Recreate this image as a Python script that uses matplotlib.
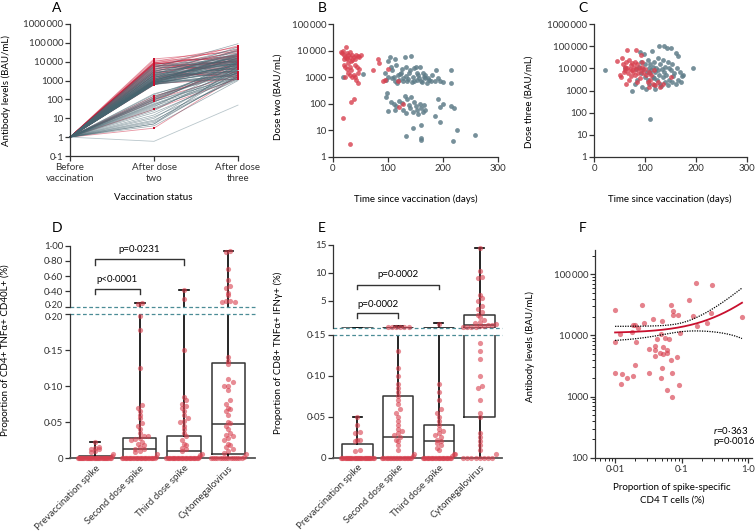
import numpy as np
import matplotlib
matplotlib.use("Agg")
import matplotlib.pyplot as plt
import matplotlib.transforms as mtransforms
from matplotlib.ticker import NullLocator, LogLocator, NullFormatter

plt.rcParams['font.family'] = ['Lato', 'DejaVu Sans']
plt.rcParams['font.size'] = 7
plt.rcParams['mathtext.fontset'] = 'custom'
plt.rcParams['mathtext.rm'] = 'Lato'
plt.rcParams['mathtext.it'] = 'Lato:italic'

# -----------------------------
# Data
# -----------------------------
# Panel A: antibody levels per participant (before vaccination = 1)
a_slate_dose2 = [600, 700, 800, 900, 1000, 1100, 1200, 1300, 1500, 1700,
                 2000, 2300, 2600, 3000, 3500, 4000, 5000, 6000, 7000, 800,
                 650, 750, 950, 1050, 1400, 1800, 2500, 900, 700, 600,
                 200, 180, 150, 120, 100, 90, 80, 70, 60, 50,
                 45, 40, 35, 30, 25, 20, 15, 12, 10, 8,
                 7, 6, 5, 5, 4, 130, 110, 95, 75, 55,
                 620, 680, 720, 780, 850, 880, 920, 980, 1150, 1250,
                 1350, 1450, 1600, 1900, 2100, 2800, 3200, 3800, 4500, 5500,
                 640, 820, 1020, 1600, 660, 740, 860, 1080, 1900, 2400]
a_slate_dose3 = [5000, 8000, 3000, 12000, 20000, 6000, 15000, 2500, 9000, 30000,
                 10000, 4000, 18000, 25000, 7000, 50000, 90000, 11000, 14000, 2000,
                 1500, 3500, 6500, 22000, 45000, 8500, 13000, 1200, 1800, 2200,
                 3000, 5000, 2500, 8000, 4000, 6000, 1500, 10000, 2000, 3500,
                 1200, 7000, 1800, 2800, 5000, 1500, 2500, 1100, 4000, 1300,
                 3000, 1600, 2000, 6000, 1000, 9000, 4500, 12000, 2600, 1400,
                 7000, 16000, 3800, 11000, 26000, 5500, 9500, 19000, 40000, 6000,
                 13000, 28000, 8000, 17000, 60000, 4200, 21000, 35000, 7500, 10000,
                 2400, 5200, 14000, 3300, 9000, 24000, 6800, 12500, 3000, 16000]
a_red_dose2 = [600, 800, 1000, 1200, 1500, 2000, 2500, 3000, 3500, 4000,
               5000, 6000, 7000, 8000, 9000, 10000, 12000, 14000, 6500, 7500,
               5500, 4500, 3000, 2000, 1000, 700, 120, 150, 80, 100,
               30, 3, 9000, 8500, 7800]
a_red_dose3 = [8000, 15000, 5000, 20000, 3000, 25000, 10000, 40000, 6000, 12000,
               70000, 9000, 30000, 18000, 2500, 60000, 14000, 35000, 7000, 22000,
               4000, 11000, 1500, 2000, 16000, 1200, 5000, 3000, 8000, 2000,
               1300, 1800, 20000, 45000, 10000]
a_faint = [1, 0.6, 50]
a_stages = ["Before\nvaccination", "After dose\ntwo", "After dose\nthree"]

# Panel B: dose two level vs time since vaccination
b_red_days = [15, 17, 18, 20, 22, 24, 25, 26, 28, 30,
              32, 20, 22, 25, 27, 30, 33, 35, 38, 40,
              42, 45, 48, 50, 40, 43, 45, 38, 35, 42,
              45, 30, 28, 22, 18, 30, 32, 38, 72, 82,
              83, 90, 95, 100, 118, 120, 128, 25, 30, 35,
              20, 47, 40]
b_red_bau = [9000, 8000, 10000, 7000, 6000, 14000, 8000, 5000, 7000, 6000,
             4000, 3000, 2500, 2000, 3500, 2500, 1800, 7000, 6000, 5000,
             7000, 6500, 6000, 7000, 3000, 2500, 1500, 1200, 1000, 800,
             600, 1200, 1500, 1000, 30, 3, 120, 150, 1800, 5000,
             3500, 700, 800, 2000, 700, 75, 100, 5500, 9000, 4500,
             5000, 2000, 1000]
b_slate_days = [18, 55, 95, 100, 103, 105, 108, 110, 112, 115,
                118, 120, 123, 125, 128, 130, 132, 135, 138, 140,
                142, 145, 148, 150, 152, 155, 158, 160, 163, 165,
                168, 170, 175, 180, 185, 188, 190, 195, 200, 215,
                215, 97, 100, 107, 113, 117, 122, 127, 133, 137,
                143, 147, 153, 157, 162, 167, 172, 178, 98, 97,
                100, 105, 110, 112, 115, 120, 125, 128, 130, 132,
                135, 138, 140, 142, 145, 148, 150, 152, 155, 158,
                160, 163, 165, 168, 190, 195, 200, 215, 220, 185,
                195, 145, 160, 225, 258, 132, 160, 160, 218]
b_slate_bau = [1000, 1300, 1500, 4000, 6000, 2500, 1800, 1000, 5000, 3000,
               1200, 800, 1500, 2000, 900, 6000, 2500, 700, 1500, 1800,
               6500, 1000, 2200, 2500, 800, 1200, 2500, 700, 1500, 1000,
               900, 600, 800, 1200, 700, 1800, 900, 700, 650, 1800,
               600, 800, 1000, 900, 700, 600, 1300, 750, 1100, 850,
               650, 700, 1400, 900, 650, 1200, 950, 700, 250, 180,
               55, 120, 100, 60, 80, 130, 110, 60, 200, 45,
               150, 90, 70, 180, 50, 120, 80, 60, 40, 100,
               70, 50, 90, 60, 150, 75, 100, 80, 70, 35,
               20, 12, 16, 10, 7, 6, 5, 4.5, 4]

# Panel C: dose three level vs time since vaccination
c_red_days = [45, 50, 52, 55, 57, 60, 60, 62, 63, 65,
              65, 67, 68, 70, 72, 73, 75, 77, 78, 80,
              80, 82, 83, 85, 85, 87, 88, 90, 92, 93,
              95, 97, 100, 102, 105, 107, 108, 110, 112, 115,
              118, 120, 125, 130, 135, 150, 58, 68, 75, 95]
c_red_bau = [22000, 5000, 4000, 30000, 15000, 8000, 12000, 20000, 2000, 65000,
             10000, 6000, 25000, 9000, 14000, 4500, 8000, 7000, 11000, 5000,
             20000, 70000, 9000, 2500, 15000, 6000, 10000, 3500, 8000, 40000,
             12000, 6000, 9000, 5000, 2500, 7000, 1400, 3000, 5000, 2000,
             8000, 1800, 2500, 1500, 2000, 4000, 7000, 3000, 18000, 20000]
c_slate_days = [22, 60, 75, 80, 82, 85, 88, 90, 92, 93,
                95, 97, 98, 100, 100, 102, 103, 105, 105, 107,
                108, 110, 110, 112, 113, 115, 115, 117, 118, 120,
                120, 122, 123, 125, 127, 128, 130, 130, 132, 133,
                135, 135, 137, 138, 140, 140, 142, 143, 145, 145,
                147, 148, 150, 150, 152, 153, 155, 157, 160, 160,
                162, 165, 165, 168, 170, 172, 175, 195, 110, 118,
                125]
c_slate_bau = [8000, 10000, 1000, 2000, 9000, 3000, 12000, 55000, 20000, 6000,
               1500, 9000, 45000, 4000, 15000, 1200, 7000, 25000, 3000, 10000,
               2000, 50, 6000, 8000, 60000, 4000, 12000, 1800, 20000, 1200,
               7000, 10000, 3000, 30000, 5000, 100000, 15000, 2000, 1600, 9000,
               25000, 4000, 7000, 100000, 12000, 2500, 5000, 85000, 1800, 20000,
               10000, 3000, 8000, 80000, 15000, 2500, 4500, 6000, 2000, 50000,
               10000, 3000, 35000, 7000, 2500, 4500, 5000, 10000, 15000, 3500,
               8500]

groups = ["Prevaccination spike", "Second dose spike", "Third dose spike", "Cytomegalovirus"]

# Panel D: CD4+ TNFa+ CD40L+ (%)
d_pre = [0] * 30 + [0.003, 0.005, 0.008, 0.010, 0.012, 0.013, 0.014, 0.015, 0.022]
d_second = [0] * 25 + [0.002, 0.005, 0.008, 0.010, 0.012, 0.013, 0.015, 0.018, 0.020, 0.022,
                       0.025, 0.027, 0.028, 0.030, 0.030, 0.035, 0.040, 0.045, 0.048, 0.055,
                       0.060, 0.065, 0.070, 0.073, 0.125, 0.178, 0.197, 0.240, 0.245]
d_third = [0] * 25 + [0.002, 0.004, 0.006, 0.010, 0.012, 0.014, 0.018, 0.020, 0.025, 0.030,
                      0.035, 0.040, 0.045, 0.050, 0.052, 0.055, 0.060, 0.065, 0.070, 0.072,
                      0.075, 0.080, 0.085, 0.150, 0.300, 0.420]
d_cmv = [0] * 15 + [0.002, 0.005, 0.007, 0.010, 0.012, 0.015, 0.018, 0.020, 0.025, 0.028,
                    0.030, 0.032, 0.035, 0.040, 0.045, 0.048, 0.050, 0.060, 0.065, 0.068,
                    0.070, 0.075, 0.080, 0.095, 0.100, 0.100, 0.105, 0.110, 0.130, 0.135,
                    0.140, 0.26, 0.27, 0.28, 0.26, 0.35, 0.38, 0.45, 0.47, 0.55, 0.70,
                    0.92, 0.93]
d_q1 = [0, 0, 0, 0.005]
d_med = [0, 0.012, 0.010, 0.047]
d_q3 = [0.003, 0.028, 0.030, 0.132]
d_lo = [0, 0, 0, 0]
d_hi = [0.022, 0.245, 0.42, 0.93]

# Panel E: CD8+ TNFa+ IFNg+ (%)
e_pre = [0] * 30 + [0.008, 0.010, 0.020, 0.021, 0.022, 0.030, 0.031, 0.040, 0.050]
e_second = [0] * 20 + [0.002, 0.005, 0.010, 0.015, 0.020, 0.022, 0.025, 0.028, 0.030, 0.032,
                       0.035, 0.040, 0.045, 0.050, 0.055, 0.060, 0.065, 0.070, 0.075, 0.080,
                       0.085, 0.090, 0.100, 0.110, 0.130, 0.35, 0.35, 0.35, 0.35, 0.35, 0.35]
e_third = [0] * 22 + [0.002, 0.004, 0.005, 0.010, 0.012, 0.015, 0.018, 0.020, 0.022, 0.025,
                      0.028, 0.030, 0.032, 0.035, 0.040, 0.045, 0.050, 0.055, 0.060, 0.070,
                      0.080, 0.090, 0.9]
e_cmv = [0] * 8 + [0.005, 0.010, 0.015, 0.020, 0.025, 0.030, 0.050, 0.055, 0.070, 0.085,
                   0.087, 0.100, 0.120, 0.130, 0.140, 0.2, 0.25, 0.3, 0.35, 0.4,
                   0.5, 0.6, 0.7, 0.8, 1.0, 1.2, 1.5, 2.0, 2.5, 3.0,
                   3.5, 4.0, 5.0, 5.5, 6.0, 9.0, 9.2, 10.3, 14.4]
e_q1 = [0, 0, 0, 0.05]
e_med = [0, 0.025, 0.020, 0.6]
e_q3 = [0.017, 0.075, 0.040, 2.4]
e_lo = [0, 0, 0, 0]
e_hi = [0.05, 0.45, 1.0, 14.5]

# Panel F: antibody level vs spike-specific CD4 T cells
f_cd4 = [0.01, 0.01, 0.01, 0.0119, 0.0123, 0.0129, 0.015, 0.0178, 0.0188, 0.020,
         0.0188, 0.020, 0.0206, 0.0224, 0.025, 0.0276, 0.0324, 0.0327, 0.0376, 0.0398,
         0.0398, 0.0398, 0.042, 0.047, 0.048, 0.050, 0.050, 0.053, 0.053, 0.049,
         0.056, 0.060, 0.061, 0.060, 0.065, 0.068, 0.069, 0.071, 0.072, 0.073,
         0.075, 0.089, 0.086, 0.092, 0.094, 0.127, 0.148, 0.164, 0.172, 0.237,
         0.283, 0.273, 0.80]
f_bau = [25700, 7800, 2440, 10600, 1620, 2300, 2000, 11600, 15100, 14600,
         2200, 3300, 7800, 13400, 31800, 16000, 5900, 2400, 18800, 6800,
         5800, 4600, 8800, 5200, 10400, 17400, 2900, 6400, 5000, 2000,
         9100, 5700, 5200, 1260, 8700, 31800, 3900, 2400, 1000, 25000,
         21800, 21800, 4500, 1520, 11000, 37500, 21000, 72000, 14200, 16000,
         66800, 23000, 20000]
# fitted line and 95% band as drawn (linear fit, log display)
f_fit_icpt = 10900
f_fit_slope = 29240
f_ci_a = 4.08e6
f_ci_b = 1.2027e9
f_ci_xmean = 0.07
f_fit_range = [0.01, 0.8]

# -----------------------------
# Styling
# -----------------------------
RED = "#c8102e"
RED_DOT = "#d8404f"
SLATE = "#46646f"
SLATE_DOT = "#5f7d89"
DASH = "#4b8c96"
INK = "#333333"

W, H = 756, 531
fig = plt.figure(figsize=(W / 100, H / 100), dpi=100)


def px_axes(l, t, r, b):
    return fig.add_axes([l / W, 1 - b / H, (r - l) / W, (b - t) / H])


def ftext(x, y, s, **kw):
    fig.text(x / W, 1 - y / H, s, **kw)


def style(ax):
    for s in ["top", "right"]:
        ax.spines[s].set_visible(False)
    for s in ["left", "bottom"]:
        ax.spines[s].set_color(INK)
        ax.spines[s].set_linewidth(0.9)
    ax.tick_params(colors=INK, width=0.9, length=3.5, labelsize=7, pad=1.5)
    ax.tick_params(which="minor", length=2, width=0.6)
    ax.patch.set_alpha(0)


def swarm(vals, ypx, xpx, step_px=4.2, maxw=0.4):
    vals = np.asarray(vals, float)
    off = np.zeros(len(vals))
    if len(vals) == 0:
        return off
    bins = np.floor(vals * ypx / 4.5).astype(int)
    for b in np.unique(bins):
        idx = np.where(bins == b)[0]
        k = len(idx)
        if k > 1:
            half = min(maxw, (k - 1) * step_px / xpx / 2)
            off[idx] = np.linspace(-half, half, k)
    return off


def nudge_label(ax, i, dy_px):
    lab = ax.yaxis.get_major_ticks()[i].label1
    lab.set_transform(lab.get_transform() +
                      mtransforms.ScaledTranslation(0, dy_px / 100, fig.dpi_scale_trans))
    lab.set_fontsize(6.6)


# -----------------------------
# A
# -----------------------------
ax = px_axes(70, 24, 238, 156)
style(ax)
ax.set_yscale("log")
for d2, d3 in zip(a_red_dose2, a_red_dose3):
    ax.plot([0, 1, 2], [1, d2, d3], color=RED, lw=0.6, alpha=0.45, clip_on=False)
ax.plot([0, 1, 2], a_faint, color="#b9c6cb", lw=0.6, clip_on=False)
for d2, d3 in zip(a_slate_dose2, a_slate_dose3):
    ax.plot([0, 1, 2], [1, d2, d3], color=SLATE, lw=0.5, alpha=0.55, clip_on=False)
ax.plot([1] * len(a_red_dose2), a_red_dose2, "s", ms=1.8, color=RED, mew=0, clip_on=False)
ax.plot([2] * len(a_red_dose3), a_red_dose3, "s", ms=1.8, color=RED, mew=0, clip_on=False)
ax.set_xlim(0, 2)
ax.set_ylim(0.1, 1e6)
ax.yaxis.set_minor_locator(NullLocator())
ax.set_yticks([0.1, 1, 10, 100, 1000, 1e4, 1e5, 1e6],
              ["0·1", "1", "10", "100", "1000", "10\u2009000", "100\u2009000", "1000\u2009000"])
ax.set_xticks([0, 1, 2], a_stages, linespacing=1.35)
ftext(57, 8, "A", fontsize=10, ha="center", va="center")
ftext(6, 90, "Antibody levels (BAU/mL)", rotation=90, ha="center", va="center")
ftext(153, 198, "Vaccination status", ha="center", va="center")

# -----------------------------
# B
# -----------------------------
ax = px_axes(333, 24, 498, 157)
style(ax)
ax.set_yscale("log")
ax.scatter(b_slate_days, b_slate_bau, s=12, color=SLATE_DOT, alpha=0.85, lw=0)
ax.scatter(b_red_days, b_red_bau, s=12, color=RED_DOT, alpha=0.8, lw=0)
ax.set_xlim(0, 300)
ax.set_ylim(1, 1e5)
ax.yaxis.set_minor_locator(NullLocator())
ax.set_xticks([0, 100, 200, 300])
ax.set_yticks([1, 10, 100, 1000, 1e4, 1e5], ["1", "10", "100", "1000", "10\u2009000", "100\u2009000"])
ftext(322, 8, "B", fontsize=10, ha="center", va="center")
ftext(278, 97, "Dose two (BAU/mL)", rotation=90, ha="center", va="center")
ftext(416, 199, "Time since vaccination (days)", ha="center", va="center")

# -----------------------------
# C
# -----------------------------
ax = px_axes(594, 24, 747, 157)
style(ax)
ax.set_yscale("log")
ax.scatter(c_slate_days, c_slate_bau, s=12, color=SLATE_DOT, alpha=0.85, lw=0)
ax.scatter(c_red_days, c_red_bau, s=12, color=RED_DOT, alpha=0.8, lw=0)
ax.set_xlim(0, 300)
ax.set_ylim(1, 1e6)
ax.yaxis.set_minor_locator(NullLocator())
ax.set_xticks([0, 100, 200, 300])
ax.set_yticks([1, 10, 100, 1000, 1e4, 1e5, 1e6],
              ["1", "10", "100", "1000", "10\u2009000", "100\u2009000", "1000\u2009000"])
ftext(583, 8, "C", fontsize=10, ha="center", va="center")
ftext(529, 102, "Dose three (BAU/mL)", rotation=90, ha="center", va="center")
ftext(670, 199, "Time since vaccination (days)", ha="center", va="center")


# -----------------------------
# D and E (broken axes with box plots)
# -----------------------------
def box_panel(ax_lo, ax_hi, data, q1, med, q3, lo, hi, split, px_lo, px_hi, px_x):
    stats = [dict(q1=a, med=m, q3=b, whislo=l, whishi=h, fliers=[])
             for a, m, b, l, h in zip(q1, med, q3, lo, hi)]
    for axx in (ax_lo, ax_hi):
        axx.bxp(stats, positions=range(4), widths=0.75, showfliers=False,
                capwidths=0.22, manage_ticks=False,
                boxprops=dict(color=INK, lw=1.1),
                medianprops=dict(color=INK, lw=1.1),
                whiskerprops=dict(color="black", lw=1.2),
                capprops=dict(color="black", lw=1.2))
    for i, vals in enumerate(data):
        v = np.asarray(vals, float)
        low = v[v <= split]
        high = v[v > split]
        ax_lo.scatter(i + swarm(low, px_lo, px_x), low, s=14, color=RED_DOT,
                      alpha=0.6, lw=0, zorder=4, clip_on=False)
        ax_hi.scatter(i + swarm(high, px_hi, px_x), high, s=14, color=RED_DOT,
                      alpha=0.6, lw=0, zorder=4, clip_on=False)
    for axx in (ax_lo, ax_hi):
        style(axx)
    ax_hi.spines["bottom"].set_visible(False)
    ax_hi.tick_params(axis="x", bottom=False, labelbottom=False)
    ax_lo.spines["bottom"].set_color("#555555")
    ax_lo.spines["bottom"].set_linewidth(1.3)
    ax_lo.set_xticks(range(4), groups, rotation=45, ha="right", rotation_mode="anchor")
    ax_lo.tick_params(axis="x", length=0, pad=4)
    ax_lo.axhline(split, color=DASH, ls="--", lw=0.9, dashes=(3, 2), clip_on=False)
    ax_hi.axhline(ax_hi.get_ylim()[0], color=DASH, ls="--", lw=0.9, dashes=(3, 2), clip_on=False)


def bracket(ax, x0, x1, y_leg, y_top):
    ax.plot([x0, x0, x1, x1], [y_leg, y_top, y_top, y_leg], color=INK, lw=1, clip_on=False)


# D
d_lo_ax = px_axes(70, 314, 255, 458)
d_hi_ax = px_axes(70, 245.7, 255, 306.7)
d_lo_ax.set_xlim(-0.57, 3.6)
d_hi_ax.set_xlim(-0.57, 3.6)
d_lo_ax.set_ylim(0, 0.2)
d_hi_ax.set_ylim(0.2, 1.0)
box_panel(d_lo_ax, d_hi_ax, [d_pre, d_second, d_third, d_cmv],
          d_q1, d_med, d_q3, d_lo, d_hi, 0.2, 720, 76.25, 44.4)
d_lo_ax.set_yticks([0, 0.05, 0.10, 0.15, 0.20], ["0", "0·05", "0·10", "0·15", "0·20"])
d_hi_ax.set_yticks([0.2, 0.4, 0.6, 0.8, 1.0], ["0·20", "0·40", "0·60", "0·80", "1·00"])
nudge_label(d_lo_ax, 4, -2.2)
nudge_label(d_hi_ax, 0, 2.2)
bracket(d_hi_ax, 0, 1, 0.366, 0.436)
d_hi_ax.text(0.5, 0.56, "p<0·0001", ha="center", va="center")
bracket(d_hi_ax, 0, 2, 0.747, 0.825)
d_hi_ax.text(1.0, 0.95, "p=0·0231", ha="center", va="center")
ftext(57, 228, "D", fontsize=10, ha="center", va="center")
ftext(5, 350, "Proportion of CD4+ TNFα+ CD40L+ (%)", rotation=90, ha="center", va="center")

# E
e_lo_ax = px_axes(333, 334.7, 502, 457.7)
e_hi_ax = px_axes(333, 245, 502, 327.7)
e_lo_ax.set_xlim(-0.6, 3.55)
e_hi_ax.set_xlim(-0.6, 3.55)
e_lo_ax.set_ylim(0, 0.15)
e_hi_ax.set_ylim(0.15, 15)
box_panel(e_lo_ax, e_hi_ax, [e_pre, e_second, e_third, e_cmv],
          e_q1, e_med, e_q3, e_lo, e_hi, 0.15, 820, 5.51, 40.7)
e_lo_ax.set_yticks([0, 0.05, 0.10, 0.15], ["0", "0·05", "0·10", "0·15"])
e_hi_ax.set_yticks([5, 10, 15], ["5", "10", "15"])
bracket(e_hi_ax, 0, 1, 1.9, 2.7)
e_hi_ax.text(0.5, 4.4, "p=0·0002", ha="center", va="center")
bracket(e_hi_ax, 0, 2, 7.1, 7.9)
e_hi_ax.text(1.0, 9.7, "p=0·0002", ha="center", va="center")
ftext(322, 228, "E", fontsize=10, ha="center", va="center")
ftext(278, 353, "Proportion of CD8+ TNFα+ IFNγ+ (%)", rotation=90, ha="center", va="center")

# -----------------------------
# F
# -----------------------------
ax = px_axes(595, 250, 752, 457.7)
style(ax)
ax.set_xscale("log")
ax.set_yscale("log")
ax.scatter(f_cd4, f_bau, s=14, color=RED_DOT, alpha=0.65, lw=0, clip_on=False, zorder=3)

xg = np.linspace(f_fit_range[0], f_fit_range[1], 300)
fit = f_fit_icpt + f_fit_slope * xg
half = np.sqrt(f_ci_a + f_ci_b * (xg - f_ci_xmean) ** 2)
ax.plot(xg, fit, color=RED, lw=1.3, zorder=4)
ax.plot(xg, fit + half, color="black", lw=0.9, ls=(0, (1, 1)), zorder=4)
ax.plot(xg, fit - half, color="black", lw=0.9, ls=(0, (1, 1)), zorder=4)

ax.set_xlim(0.005, 1.13)
ax.set_ylim(100, 2.5e5)
ax.set_xticks([0.01, 0.1, 1.0], ["0·01", "0·1", "1·0"])
ax.set_yticks([100, 1000, 1e4, 1e5], ["100", "1000", "10\u2009000", "100\u2009000"])
ax.xaxis.set_minor_locator(LogLocator(base=10, subs=np.arange(2, 10)))
ax.yaxis.set_minor_locator(LogLocator(base=10, subs=np.arange(2, 10)))
ax.xaxis.set_minor_formatter(NullFormatter())
ax.yaxis.set_minor_formatter(NullFormatter())
ftext(583, 228, "F", fontsize=10, ha="center", va="center")
ftext(530, 347, "Antibody levels (BAU/mL)", rotation=90, ha="center", va="center")
ftext(672, 494, "Proportion of spike-specific\nCD4 T cells (%)", ha="center", va="center",
      linespacing=1.5)
ftext(713, 430, r"$\mathit{r}$=0·363", ha="left", va="center")
ftext(713, 441, "p=0·0016", ha="left", va="center")

fig.savefig("out.png", dpi=100)
